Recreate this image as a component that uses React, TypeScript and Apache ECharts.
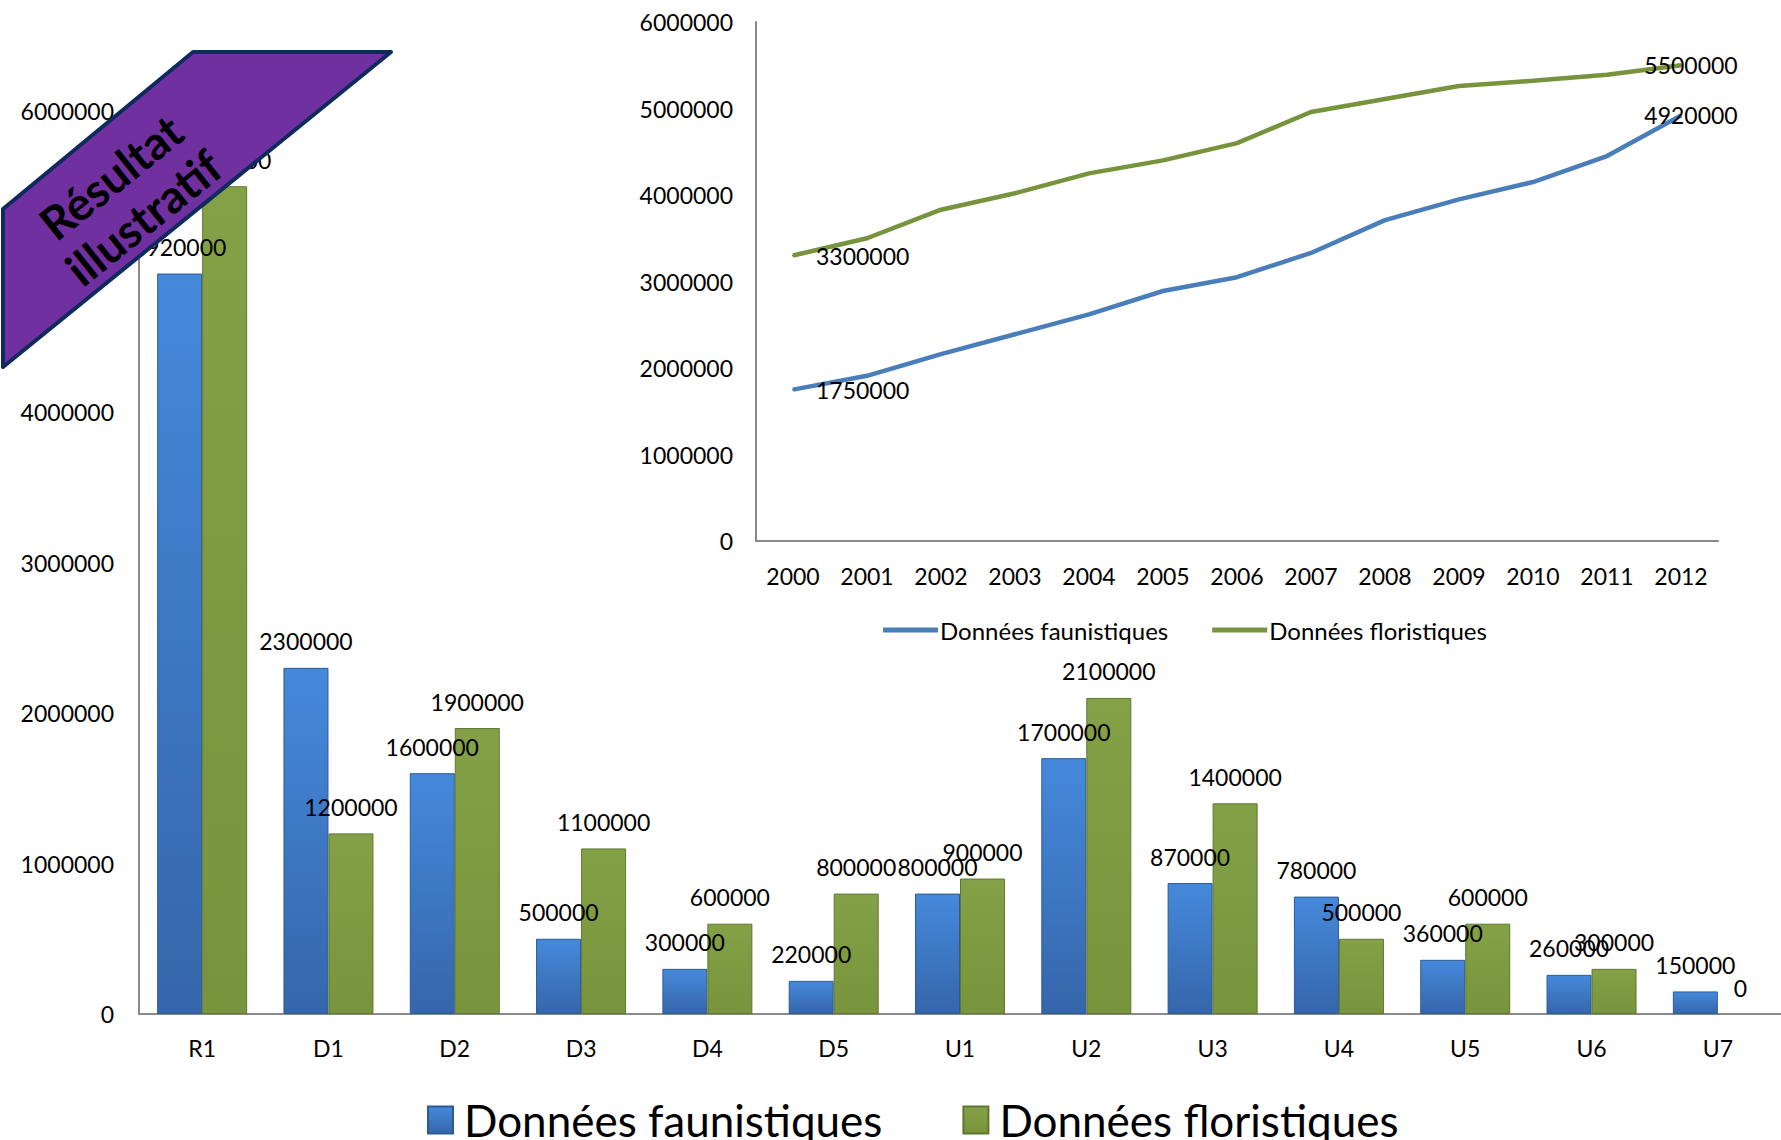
import React, { useEffect, useRef } from 'react';
import * as echarts from 'echarts';

// ---- Data ----
const siteCategories = ['R1', 'D1', 'D2', 'D3', 'D4', 'D5', 'U1', 'U2', 'U3', 'U4', 'U5', 'U6', 'U7'];
const siteFauna = [4920000, 2300000, 1600000, 500000, 300000, 220000, 800000, 1700000, 870000, 780000, 360000, 260000, 150000];
const siteFlora = [5500000, 1200000, 1900000, 1100000, 600000, 800000, 900000, 2100000, 1400000, 500000, 600000, 300000, 0];

const years = ['2000', '2001', '2002', '2003', '2004', '2005', '2006', '2007', '2008', '2009', '2010', '2011', '2012'];
const yearFauna = [1750000, 1910000, 2160000, 2390000, 2620000, 2890000, 3050000, 3330000, 3710000, 3950000, 4150000, 4450000, 4920000];
const yearFlora = [3300000, 3500000, 3830000, 4020000, 4250000, 4400000, 4600000, 4960000, 5110000, 5260000, 5320000, 5390000, 5500000];

const seriesNames = ['Données faunistiques', 'Données floristiques'];
const bannerText = 'Résultat\nillustratif';

const FONT = 'Lato, "Open Sans", sans-serif';
const AXIS_GRAY = '#8a8a8a';
const LINE_BLUE = '#4A7EBB';
const LINE_GREEN = '#77933C';

function lineData(values: number[]) {
  const last = values.length - 1;
  return values.map((v, i) => {
    if (i === 0) {
      return { value: v, label: { show: true, position: 'right', distance: 22 } };
    }
    if (i === last) {
      return { value: v, label: { show: true, position: 'inside', offset: [10, 0] } };
    }
    return v;
  });
}

function barData(values: number[]) {
  // zero-height bars get no outline (nothing visible in the reference), label kept
  return values.map((v) => (v === 0 ? { value: v, itemStyle: { borderWidth: 0, borderColor: 'transparent' } } : v));
}

export default function App() {
  const ref = useRef<HTMLDivElement>(null);

  useEffect(() => {
    if (!ref.current) return;
    const chart = echarts.init(ref.current, null, { renderer: 'svg' });

    const blueFill = new echarts.graphic.LinearGradient(0, 0, 0, 1, [
      { offset: 0, color: '#4589DB' },
      { offset: 1, color: '#3566AA' },
    ]);
    const greenFill = new echarts.graphic.LinearGradient(0, 0, 0, 1, [
      { offset: 0, color: '#84A147' },
      { offset: 1, color: '#78943C' },
    ]);

    const plain = (v: number) => String(v);
    const axisLabel = { color: '#000', fontSize: 23, fontFamily: FONT };
    const barLabel = { show: true, position: 'top', distance: 15, fontSize: 23, color: '#000', fontFamily: FONT };

    const option: any = {
      animation: false,
      backgroundColor: '#ffffff',
      textStyle: { fontFamily: FONT, color: '#000' },
      grid: [
        { left: 139, right: 0, top: 111, bottom: 126 },
        { left: 756, right: 63, top: 22, bottom: 599 },
      ],
      xAxis: [
        {
          type: 'category', gridIndex: 0, data: siteCategories,
          axisLine: { lineStyle: { color: AXIS_GRAY, width: 2 } },
          axisTick: { show: false },
          axisLabel: { ...axisLabel, margin: 22 },
        },
        {
          type: 'category', gridIndex: 1, data: years, boundaryGap: true,
          axisLine: { lineStyle: { color: AXIS_GRAY, width: 2 } },
          axisTick: { show: false },
          axisLabel: { ...axisLabel, margin: 23 },
        },
      ],
      yAxis: [
        {
          type: 'value', gridIndex: 0, min: 0, max: 6000000, interval: 1000000,
          axisLine: { show: true, lineStyle: { color: AXIS_GRAY, width: 2 } },
          axisTick: { show: false },
          splitLine: { show: false },
          axisLabel: { ...axisLabel, margin: 25, formatter: plain },
        },
        {
          type: 'value', gridIndex: 1, min: 0, max: 6000000, interval: 1000000,
          axisLine: { show: true, lineStyle: { color: AXIS_GRAY, width: 2 } },
          axisTick: { show: false },
          splitLine: { show: false },
          axisLabel: { ...axisLabel, margin: 23, formatter: plain },
        },
      ],
      legend: [
        {
          data: seriesNames.map((n) => ({ name: n, icon: 'rect' })),
          left: 422, top: 1093,
          itemWidth: 25, itemHeight: 27, itemGap: 80,
          selectedMode: false,
          textStyle: { fontSize: 44, color: '#000', fontFamily: FONT, padding: [0, 0, 0, 6] },
        },
        {
          data: [
            { name: seriesNames[0], icon: 'rect', itemStyle: { color: LINE_BLUE, borderWidth: 0 } },
            { name: seriesNames[1], icon: 'rect', itemStyle: { color: LINE_GREEN, borderWidth: 0 } },
          ],
          left: 878, top: 613,
          itemWidth: 55, itemHeight: 5, itemGap: 44,
          selectedMode: false,
          textStyle: { fontSize: 24, color: '#000', fontFamily: FONT, padding: [0, 0, 0, -3] },
        },
      ],
      series: [
        {
          type: 'bar', name: seriesNames[0], xAxisIndex: 0, yAxisIndex: 0,
          data: barData(siteFauna), barWidth: 45, barGap: '0%',
          itemStyle: { color: blueFill, borderColor: '#2D5A96', borderWidth: 1 },
          label: barLabel,
        },
        {
          type: 'bar', name: seriesNames[1], xAxisIndex: 0, yAxisIndex: 0,
          data: barData(siteFlora), barWidth: 45, barGap: '0%',
          itemStyle: { color: greenFill, borderColor: '#5F772F', borderWidth: 1 },
          label: barLabel,
        },
        {
          type: 'line', name: seriesNames[0], xAxisIndex: 1, yAxisIndex: 1,
          data: lineData(yearFauna),
          lineStyle: { color: LINE_BLUE, width: 4.5 },
          itemStyle: { color: LINE_BLUE },
          symbol: 'circle', symbolSize: 2, showSymbol: true,
          label: { show: false, fontSize: 23, color: '#000', fontFamily: FONT },
        },
        {
          type: 'line', name: seriesNames[1], xAxisIndex: 1, yAxisIndex: 1,
          data: lineData(yearFlora),
          lineStyle: { color: LINE_GREEN, width: 4.5 },
          itemStyle: { color: LINE_GREEN },
          symbol: 'circle', symbolSize: 2, showSymbol: true,
          label: { show: false, fontSize: 23, color: '#000', fontFamily: FONT },
        },
      ],
      graphic: [
        {
          type: 'polygon', z: 100,
          shape: { points: [[193, 52], [391, 52], [3, 367], [3, 209]] },
          style: { fill: '#7030A0', stroke: '#0F2A5F', lineWidth: 4, lineJoin: 'round' },
        },
        {
          type: 'text', z: 101, x: 127, y: 197, rotation: (38.8 * Math.PI) / 180,
          style: {
            text: bannerText, fill: '#000', fontSize: 46, fontWeight: 'bold', fontFamily: FONT,
            align: 'center', verticalAlign: 'middle', lineHeight: 52,
          },
        },
      ],
    };

    chart.setOption(option);
    return () => chart.dispose();
  }, []);

  return (
    <div
      ref={ref}
      style={{ position: 'fixed', left: 0, top: 0, width: 1781, height: 1140, background: '#fff' }}
    />
  );
}
